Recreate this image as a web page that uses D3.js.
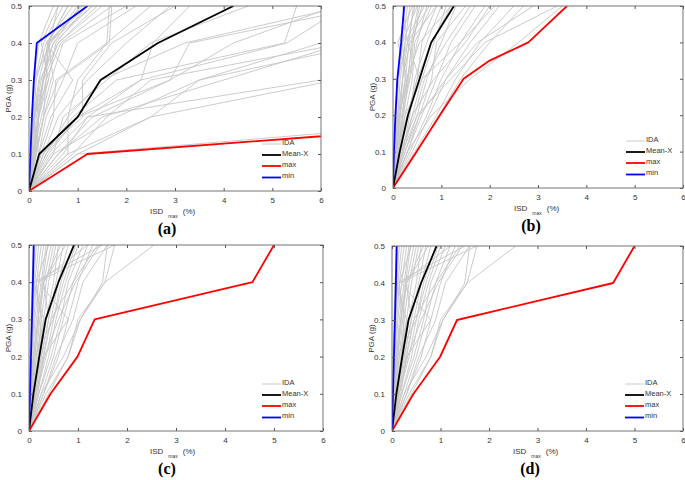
<!DOCTYPE html>
<html><head><meta charset="utf-8">
<script src="https://cdn.jsdelivr.net/npm/d3@7/dist/d3.min.js"></script>
<style>body{margin:0;background:#fff}svg{display:block}</style></head>
<body>
<svg id="chart" width="685" height="480"></svg>
<script>
// ---------- data ----------
const pgaLevels = [0, 0.1, 0.2, 0.3, 0.4, 0.5];
const xTicks = [0, 1, 2, 3, 4, 5, 6];
const yTicks = [0, 0.1, 0.2, 0.3, 0.4, 0.5];
const legendLabels = ["IDA", "Mean-X", "max", "min"];
const panelLabels = ["(a)", "(b)", "(c)", "(d)"];

// ISDmax (%) of each IDA record at the PGA levels above
const idaA = [
  [0,0.03,0.06,0.1,0.2,0.5],[0,0.05,0.08,0.12,0.3,0.7],[0,0.06,0.1,0.15,0.35,0.9],
  [0,0.08,0.1,0.2,0.4,1.1],[0,0.1,0.12,0.25,0.5,1.3],[0,0.1,0.15,0.3,0.6,1.5],
  [0,0.12,0.2,0.1,0.45,1.0],[0,0.15,0.2,0.35,0.65,1.7],[0,0.1,0.25,0.45,0.7,2.0],
  [0,0.15,0.3,0.6,1.65,1.7],[0,0.2,0.1,0.4,0.55,1.2],[0,0.2,0.35,0.7,1.0,2.2],
  [0,0.25,0.5,0.55,1.6,2.5],[0,0.3,0.6,1.2,2.0,2.9],[0,0.8,0.8,1.0,1.6,1.65],
  [0,0.5,0.7,1.6,2.5,4.5],[0,0.35,1.0,2.3,2.55,3.3],[0,0.6,1.3,2.9,4.2,6.3],
  [0,0.7,1.2,2.3,5.3,6.5],[0,0.9,1.6,2.5,6.5,7.0],[0,1.0,2.5,3.5,6.0,8.0],
  [0,1.0,10,12,14,16],[0,0.8,2.5,6.3,8,9],[0,0.5,1.8,3.5,7,9],
  [0,0.4,1.0,2.9,3.3,7],[0,0.3,0.9,1.8,5.25,5.5],[0,0.2,0.45,0.9,0.35,1.2],
  [0,0.15,0.3,0.5,0.4,0.8],[0,0.07,0.2,0.4,0.25,0.6],[0,0.25,1.1,1.1,1.7,3.0],
  [0,0.6,1.5,4.0,6.5,8],[0,0.45,1.2,6.0,9,10],[0,0.35,0.8,1.5,3.2,6.5],
  [0,0.1,0.2,0.3,0.38,0.8],[0,0.05,0.1,0.3,0.42,0.6],[0,0.12,0.3,0.35,0.4,1.3],
  [0,0.09,0.18,0.28,0.5,1.05],[0,0.04,0.12,0.22,0.6,1.4]
];
const meanA = [0,0.21,1.0,1.47,2.65,4.2];
const maxA  = [0,1.2,11.2,14,16,18];
const minA  = [0,0.03,0.06,0.1,0.16,1.2];

const idaB = [
  [0,0.02,0.05,0.1,0.15,0.25],[0,0.03,0.07,0.12,0.2,0.3],[0,0.04,0.1,0.15,0.25,0.35],
  [0,0.05,0.12,0.2,0.3,0.45],[0,0.06,0.15,0.25,0.2,0.5],[0,0.08,0.18,0.3,0.4,0.6],
  [0,0.1,0.2,0.35,0.5,0.7],[0,0.12,0.25,0.4,0.45,0.8],[0,0.15,0.3,0.5,0.6,0.9],
  [0,0.2,0.35,0.45,0.7,1.0],[0,0.18,0.4,0.6,0.85,1.1],[0,0.25,0.5,0.7,1.0,1.3],
  [0,0.3,0.55,0.8,0.9,1.5],[0,0.3,0.6,0.9,1.2,1.7],[0,0.35,0.7,1.0,1.4,1.9],
  [0,0.4,0.75,1.1,1.6,2.2],[0,0.45,0.9,1.3,1.8,2.5],[0,0.5,0.95,1.4,2.0,2.7],
  [0,0.2,0.5,1.2,1.9,3.4],[0,0.3,0.8,1.6,2.6,3.5],[0,0.1,0.25,0.6,1.4,2.1],
  [0,0.05,0.1,0.2,0.35,0.9],[0,0.07,0.13,0.3,0.1,0.4],[0,0.09,0.2,0.28,0.55,1.2],
  [0,0.12,0.3,0.55,0.3,0.75],[0,0.15,0.45,0.65,1.1,1.6],[0,0.22,0.4,0.85,1.5,2.0],
  [0,0.04,0.08,0.35,0.42,0.55],[0,0.25,0.55,1.1,1.75,2.9],[0,0.06,0.3,0.5,0.8,1.2],
  [0,0.03,0.06,0.09,0.3,0.2],[0,0.08,0.15,0.2,0.25,0.65],[0,0.1,0.22,0.32,0.38,0.52],
  [0,0.06,0.14,0.26,0.33,0.42]
];
const meanB = [0,0.14,0.31,0.55,0.79,1.26];
const maxBLevels = [0,0.1,0.2,0.3,0.35,0.4,0.5];
const maxB  = [0,0.49,0.97,1.46,2.0,2.8,3.6];
const minB  = [0,0.02,0.05,0.09,0.17,0.23];

const idaCD = [
  [0,0.01,0.02,0.04,0.06,0.1],[0,0.02,0.04,0.06,0.1,0.15],[0,0.02,0.05,0.08,0.12,0.2],
  [0,0.03,0.06,0.1,0.15,0.25],[0,0.04,0.08,0.12,0.2,0.3],[0,0.05,0.1,0.15,0.25,0.35],
  [0,0.05,0.12,0.2,0.15,0.4],[0,0.06,0.15,0.22,0.3,0.45],[0,0.08,0.18,0.25,0.35,0.5],
  [0,0.1,0.2,0.3,0.4,0.55],[0,0.1,0.22,0.35,0.5,0.6],[0,0.12,0.25,0.4,0.55,0.7],
  [0,0.15,0.3,0.45,0.6,0.8],[0,0.15,0.35,0.5,0.65,0.9],[0,0.2,0.4,0.55,0.75,1.0],
  [0,0.2,0.45,0.65,0.8,1.1],[0,0.25,0.5,0.7,0.9,1.2],[0,0.3,0.6,0.8,1.0,1.3],
  [0,0.35,0.8,1.05,1.5,1.6],[0,0.4,0.8,1.0,1.55,1.75],[0,0.3,0.55,0.9,1.1,1.6],
  [0,0.25,0.7,1.05,1.55,2.55],[0,0.18,0.3,0.8,0.2,1.2],[0,0.07,0.15,0.3,0.1,1.5],
  [0,0.09,0.2,0.25,0.15,1.75],[0,0.12,0.28,0.45,0.9,1.4],[0,0.06,0.1,0.5,0.7,0.95],
  [0,0.14,0.32,0.6,0.95,1.45],[0,0.04,0.09,0.18,0.3,0.65],[0,0.08,0.25,0.4,0.3,0.75],
  [0,0.03,0.05,0.07,0.09,0.12],[0,0.06,0.12,0.18,0.28,0.38]
];
const meanCD = [0,0.09,0.21,0.34,0.6,0.92];
const maxCD  = [0,0.44,0.99,1.34,4.56,5.0];
const minCD  = [0,0.02,0.04,0.06,0.08,0.095];

// ---------- layout ----------
const frames = [
  {x:29,  y:6,   w:292, h:185},
  {x:393, y:6,   w:290, h:182},
  {x:29,  y:245, w:294, h:186},
  {x:392, y:246, w:291, h:185}
];
const panelData = [
  {ida: idaA,  mean: meanA,  max: maxA,  maxLv: pgaLevels,  min: minA},
  {ida: idaB,  mean: meanB,  max: maxB,  maxLv: maxBLevels, min: minB},
  {ida: idaCD, mean: meanCD, max: maxCD, maxLv: pgaLevels,  min: minCD},
  {ida: idaCD, mean: meanCD, max: maxCD, maxLv: pgaLevels,  min: minCD}
];
const colors = {ida:"#c6c6c6", mean:"#000000", max:"#ff0000", min:"#0000ff"};
const font = "'Liberation Sans', Arial, sans-serif";

const svg = d3.select("#chart");

frames.forEach((f, i) => {
  const d = panelData[i];
  const x = d3.scaleLinear().domain([0, 6]).range([f.x, f.x + f.w]);
  const y = d3.scaleLinear().domain([0, 0.5]).range([f.y + f.h, f.y]);
  const g = svg.append("g");

  const clipId = "clip" + i;
  svg.append("clipPath").attr("id", clipId).append("rect")
    .attr("x", f.x).attr("y", f.y).attr("width", f.w).attr("height", f.h);

  const line = () => d3.line().x(p => x(p[0])).y(p => y(p[1]));
  const pts = (xs, lv) => xs.map((v, k) => [v, lv[k]]);

  const plot = g.append("g").attr("clip-path", `url(#${clipId})`);
  plot.selectAll("path.ida").data(d.ida).enter().append("path")
    .attr("d", r => line()(pts(r, pgaLevels)))
    .attr("fill", "none").attr("stroke", colors.ida).attr("stroke-width", 0.9);
  const main = [
    {xs: d.max, lv: d.maxLv, c: colors.max},
    {xs: d.mean, lv: pgaLevels, c: colors.mean},
    {xs: d.min, lv: pgaLevels, c: colors.min}
  ];
  plot.selectAll("path.main").data(main).enter().append("path")
    .attr("d", m => line()(pts(m.xs, m.lv)))
    .attr("fill", "none").attr("stroke", m => m.c).attr("stroke-width", 1.8)
    .attr("stroke-linejoin", "round");

  // axes (ticks inward, on all four sides)
  const axStyle = s => {
    s.select(".domain").remove();
    s.selectAll(".tick line").attr("stroke", "#555");
    s.selectAll(".tick text").attr("fill", "#333").attr("font-size", 8).attr("font-family", font);
  };
  g.append("g").attr("transform", `translate(0,${f.y + f.h})`)
    .call(d3.axisBottom(x).tickValues(xTicks).tickSizeInner(-3).tickPadding(6).tickFormat(d3.format("d")))
    .call(axStyle);
  g.append("g").attr("transform", `translate(0,${f.y})`)
    .call(d3.axisTop(x).tickValues(xTicks).tickSizeInner(-3).tickFormat(""))
    .call(axStyle);
  g.append("g").attr("transform", `translate(${f.x},0)`)
    .call(d3.axisLeft(y).tickValues(yTicks).tickSizeInner(-3).tickPadding(7).tickFormat(v => v === 0 ? "0" : d3.format(".1f")(v)))
    .call(axStyle);
  g.append("g").attr("transform", `translate(${f.x + f.w},0)`)
    .call(d3.axisRight(y).tickValues(yTicks).tickSizeInner(-3).tickFormat(""))
    .call(axStyle);
  g.append("rect").attr("x", f.x).attr("y", f.y).attr("width", f.w).attr("height", f.h)
    .attr("fill", "none").attr("stroke", "#666").attr("stroke-width", 0.9);

  // y label
  g.append("text")
    .attr("transform", `translate(${f.x - 18},${f.y + f.h / 2}) rotate(-90)`)
    .attr("text-anchor", "middle").attr("font-size", 8).attr("font-family", font).attr("fill", "#333")
    .text("PGA (g)");

  // x label
  const xl = g.append("text").attr("x", f.x + 121).attr("y", f.y + f.h + 23)
    .attr("font-size", 8).attr("font-family", font).attr("fill", "#333");
  xl.append("tspan").attr("fill", "#333").text("ISD");
  xl.append("tspan").attr("fill", "#333").attr("dx", 5).attr("dy", 3.5).attr("font-size", 5).text("max");
  xl.append("tspan").attr("fill", "#333").attr("dx", 5).attr("dy", -3.5).text("(%)");

  // panel caption
  g.append("text").attr("x", f.x + 138).attr("y", f.y + f.h + 43)
    .attr("text-anchor", "middle").attr("font-size", 16).attr("font-weight", "bold")
    .attr("font-family", "'Liberation Serif', 'Times New Roman', serif").attr("fill", "#000")
    .text(panelLabels[i]);

  // legend
  const legColors = [colors.ida, colors.mean, colors.max, colors.min];
  const legWidths = [0.9, 1.8, 1.8, 1.8];
  const offs = [-47, -36, -25, -13.5];
  const leg = g.append("g");
  legendLabels.forEach((lab, k) => {
    const ly = f.y + f.h + offs[k];
    leg.append("line").attr("x1", f.x + 233).attr("x2", f.x + 252).attr("y1", ly).attr("y2", ly)
      .attr("stroke", legColors[k]).attr("stroke-width", legWidths[k]);
    leg.append("text").attr("x", f.x + 253).attr("y", ly - 1).attr("dominant-baseline", "middle")
      .attr("font-size", 7.5).attr("font-family", font).attr("fill", "#333").text(lab);
  });
});
</script>
</body></html>
